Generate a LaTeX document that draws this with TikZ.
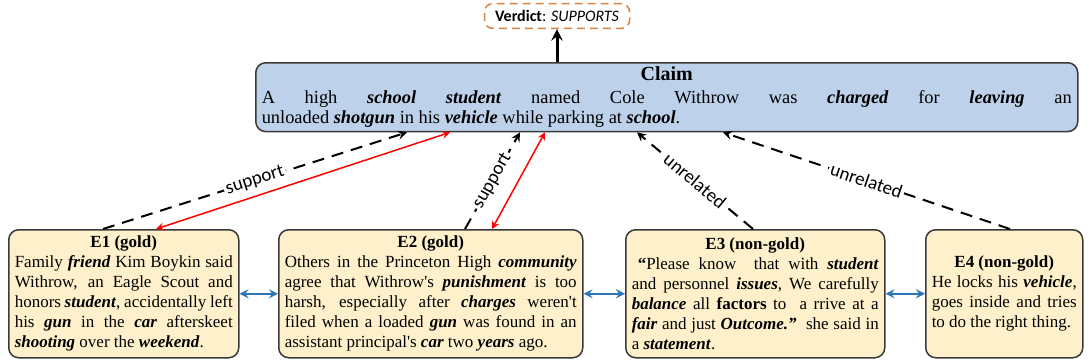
\documentclass[tikz,border=0pt]{standalone}
\usepackage{fontspec}
\setmainfont{Liberation Serif}
\setsansfont{Carlito}
\usetikzlibrary{calc}
\definecolor{claimblue}{HTML}{BDD1EA}
\definecolor{evidyellow}{HTML}{FEF0CB}
\definecolor{verdictorange}{HTML}{D9823F}
\definecolor{linkblue}{HTML}{2E75B6}
\definecolor{boxgray}{HTML}{3A3A3A}
\newcommand{\kw}[1]{\textbf{\textit{#1}}}
\newcommand{\boxtitle}[1]{{\centering\bf #1\par}}
\newcommand{\ap}{\textquotesingle}

\begin{document}
\begin{tikzpicture}[x=0.5pt,y=-0.5pt,font=\fontsize{8.5}{10}\selectfont]
\tikzstyle{textbox}=[draw=boxgray,line width=0.75pt,rounded corners=5pt,anchor=north west,inner xsep=3pt,inner ysep=1.5pt,align=justify]
\tikzstyle{evid}=[textbox,fill=evidyellow,minimum height=64pt]
\tikzstyle{rel}=[->,>=stealth,dash pattern=on 6pt off 4pt,line width=1pt]
\tikzstyle{gold}=[<->,>=stealth,red,line width=0.75pt]
\tikzstyle{chain}=[<->,>=stealth,linkblue,line width=1pt]
\tikzstyle{lbl}=[midway,sloped,fill=white,inner sep=1pt,font=\sffamily\fontsize{9.5}{10}\selectfont]
\useasboundingbox (0,0) rectangle (1089,364);
% verdict and claim
\node[draw=verdictorange,dash pattern=on 4pt off 2.5pt,line width=0.75pt,rounded corners=4pt,minimum width=72.5pt,minimum height=12pt,font=\sffamily\fontsize{8}{9}\selectfont] (verdict) at (557,16) {\textbf{Verdict}: \textit{SUPPORTS}};
\node[textbox,fill=claimblue,text width=405pt,inner ysep=2pt,font=\fontsize{9.2}{10}\selectfont] (claim) at (255,62) {{\centering\fontsize{10}{11.5}\selectfont\bf Claim\par}\vspace{1.5pt}A high \kw{school student} named Cole Withrow was \kw{charged} for \kw{leaving} an\linebreak unloaded \kw{shotgun} in his \kw{vehicle} while parking at \kw{school}.};
\draw[->,>=stealth,line width=1.5pt] (claim.north -| verdict.south) -- (verdict.south);
% evidence boxes
\node[evid,text width=109pt] (e1) at (8,229) {\boxtitle{E1 (gold)}Family \kw{friend} Kim Boykin said\linebreak Withrow, an Eagle Scout and\linebreak honors \kw{student}, accidentally left\linebreak his \kw{gun} in the \kw{car} afterskeet\linebreak \kw{shooting} over the \kw{weekend}.};
\node[evid,text width=146pt] (e2) at (278,229) {\boxtitle{E2 (gold)}Others in the Princeton High \kw{community}\linebreak agree that Withrow\ap s \kw{punishment} is too\linebreak harsh, especially after \kw{charges} weren\ap t\linebreak filed when a loaded \kw{gun} was found in an\linebreak assistant principal\ap s \kw{car} two \kw{years} ago.};
\node[evid,text width=123.5pt] (e3) at (625,229) {\boxtitle{E3 (non-gold)}\hspace*{3pt}\textbf{``}Please know\ \ that with \kw{student}\linebreak and personnel \kw{issues},\ We carefully\linebreak \kw{balance} all \textbf{factors} to\ \ a rrive at a\linebreak \kw{fair} and just \kw{Outcome.''}\ \ she said in\linebreak a \kw{statement}.};
\node[evid,text width=72.5pt] (e4) at (925,229) {\boxtitle{E4 (non-gold)}He locks his \kw{vehicle},\linebreak goes inside and tries\linebreak to do the right thing.\par\vspace*{20pt}};
% relations
\draw[rel] ($(e1.north west)+(95,0)$) -- node[lbl]{support} ($(claim.south west)+(152,0)$);
\draw[rel] ($(e2.north west)+(187,0)$) -- node[lbl]{support} ($(claim.south west)+(265,0)$);
\draw[rel] ($(e3.north west)+(128,0)$) -- node[lbl]{unrelated} ($(claim.south west)+(382,0)$);
\draw[rel] ($(e4.north west)+(85,0)$) -- node[lbl]{unrelated} ($(claim.south west)+(468,0)$);
\draw[gold] ($(e1.north west)+(148,0)$) -- ($(claim.south west)+(195,0)$);
\draw[gold] ($(e2.north west)+(214,0)$) -- ($(claim.south west)+(290,0)$);
\draw[chain] (e1) -- (e2);
\draw[chain] (e2) -- (e3);
\draw[chain] (e3) -- (e4);
\end{tikzpicture}
\end{document}
